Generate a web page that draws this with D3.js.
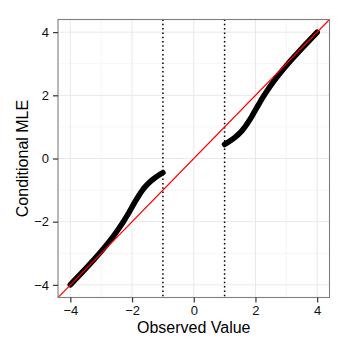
<!DOCTYPE html>
<html>
<head>
  <meta charset="utf-8" />
  <title>Conditional MLE</title>
  <script src="https://d3js.org/d3.v7.min.js"></script>
  <style>
    body { margin: 0; background: #fff; }
    text { font-family: "Liberation Sans", Arial, sans-serif; }
  </style>
</head>
<body>
  <div id="chart"></div>

  <script>
    // observed value / conditional MLE, lower branch (x <= -1)
    const lowerObserved = [-4.0, -3.808, -3.614, -3.423, -3.236, -3.055, -2.882, -2.717, -2.561, -2.417,
                           -2.282, -2.156, -2.038, -1.921, -1.799, -1.660, -1.578, -1.483, -1.374, -1.244, -1.093, -1.0];
    const lowerMLE = [-3.996, -3.8, -3.6, -3.4, -3.2, -3.0, -2.8, -2.6, -2.4, -2.2,
                      -2.0, -1.8, -1.6, -1.4, -1.2, -1.0, -0.9, -0.8, -0.7, -0.6, -0.5, -0.445];

    // upper branch (x >= 1)
    const upperObserved = [1.0, 1.093, 1.244, 1.374, 1.483, 1.578, 1.660, 1.799, 1.921, 2.038, 2.156,
                           2.282, 2.417, 2.561, 2.717, 2.882, 3.055, 3.236, 3.423, 3.614, 3.808, 4.0];
    const upperMLE = [0.445, 0.5, 0.6, 0.7, 0.8, 0.9, 1.0, 1.2, 1.4, 1.6, 1.8,
                      2.0, 2.2, 2.4, 2.6, 2.8, 3.0, 3.2, 3.4, 3.6, 3.8, 3.996];

    const cutoffs = [-1, 1];
    const majorTicks = [-4, -2, 0, 2, 4];
    const minorTicks = [-3, -1, 1, 3];
    const xDomain = [-4.4, 4.4];
    const yDomain = [-4.4, 4.4];

    const width = 350;
    const height = 350;
    const marginTop = 19.5;
    const marginRight = 20.5;
    const marginBottom = 52.5;
    const marginLeft = 58;

    const svg = d3.select("#chart")
      .append("svg")
      .attr("width", width)
      .attr("height", height)
      .attr("viewBox", [0, 0, width, height]);

    svg.append("rect").attr("width", width).attr("height", height).attr("fill", "#fff");

    const x = d3.scaleLinear().domain(xDomain).range([marginLeft, width - marginRight]);
    const y = d3.scaleLinear().domain(yDomain).range([height - marginBottom, marginTop]);

    svg.append("clipPath").attr("id", "panel")
      .append("rect")
      .attr("x", marginLeft).attr("y", marginTop)
      .attr("width", width - marginLeft - marginRight)
      .attr("height", height - marginTop - marginBottom);

    const panel = svg.append("g").attr("clip-path", "url(#panel)");

    // grid lines, minor first
    panel.selectAll(".vminor").data(minorTicks).join("line")
      .attr("x1", d => x(d)).attr("x2", d => x(d))
      .attr("y1", marginTop).attr("y2", height - marginBottom)
      .attr("stroke", "#f5f5f5").attr("stroke-width", 1);
    panel.selectAll(".hminor").data(minorTicks).join("line")
      .attr("y1", d => y(d)).attr("y2", d => y(d))
      .attr("x1", marginLeft).attr("x2", width - marginRight)
      .attr("stroke", "#f5f5f5").attr("stroke-width", 1);
    panel.selectAll(".vmajor").data(majorTicks).join("line")
      .attr("x1", d => x(d)).attr("x2", d => x(d))
      .attr("y1", marginTop).attr("y2", height - marginBottom)
      .attr("stroke", "#e8e8e8").attr("stroke-width", 1);
    panel.selectAll(".hmajor").data(majorTicks).join("line")
      .attr("y1", d => y(d)).attr("y2", d => y(d))
      .attr("x1", marginLeft).attr("x2", width - marginRight)
      .attr("stroke", "#e8e8e8").attr("stroke-width", 1);

    // dotted cutoff lines
    panel.selectAll(".cutoff").data(cutoffs).join("line")
      .attr("x1", d => x(d)).attr("x2", d => x(d))
      .attr("y1", marginTop).attr("y2", height - marginBottom)
      .attr("stroke", "#000").attr("stroke-width", 1.5)
      .attr("stroke-dasharray", "1.5,2.8");

    // the MLE curve, drawn as a thick band of points
    const line = d3.line()
      .x(d => x(d[0]))
      .y(d => y(d[1]))
      .curve(d3.curveMonotoneX);

    const branches = [
      d3.zip(lowerObserved, lowerMLE),
      d3.zip(upperObserved, upperMLE)
    ];

    panel.selectAll(".branch").data(branches).join("path")
      .attr("d", line)
      .attr("fill", "none")
      .attr("stroke", "#000")
      .attr("stroke-width", 5.6)
      .attr("stroke-linecap", "round")
      .attr("stroke-linejoin", "round");

    // identity line
    panel.append("line")
      .attr("x1", x(xDomain[0])).attr("y1", y(xDomain[0]))
      .attr("x2", x(xDomain[1])).attr("y2", y(xDomain[1]))
      .attr("stroke", "#ff0000").attr("stroke-width", 1.2);

    // panel border
    svg.append("rect")
      .attr("x", marginLeft).attr("y", marginTop)
      .attr("width", width - marginLeft - marginRight)
      .attr("height", height - marginTop - marginBottom)
      .attr("fill", "none").attr("stroke", "#7f7f7f").attr("stroke-width", 1.1);

    // axes
    const xAxis = svg.append("g")
      .attr("transform", `translate(0,${height - marginBottom})`)
      .call(d3.axisBottom(x).tickValues(majorTicks).tickSize(5).tickPadding(3));
    const yAxis = svg.append("g")
      .attr("transform", `translate(${marginLeft},0)`)
      .call(d3.axisLeft(y).tickValues(majorTicks).tickSize(5).tickPadding(4));

    [xAxis, yAxis].forEach(g => {
      g.select(".domain").remove();
      g.selectAll(".tick line").attr("stroke", "#333").attr("stroke-width", 1.2);
      g.selectAll(".tick text")
        .attr("fill", "#111")
        .style("font-size", "13px")
        .style("font-family", "'Liberation Sans', Arial, sans-serif");
    });

    // axis titles
    svg.append("text")
      .attr("x", (marginLeft + width - marginRight) / 2)
      .attr("y", 333)
      .attr("text-anchor", "middle")
      .style("font-size", "16px")
      .attr("fill", "#000")
      .text("Observed Value");

    svg.append("text")
      .attr("transform", `translate(27.5,${(marginTop + height - marginBottom) / 2}) rotate(-90)`)
      .attr("text-anchor", "middle")
      .style("font-size", "16px")
      .attr("fill", "#000")
      .text("Conditional MLE");
  </script>
</body>
</html>
